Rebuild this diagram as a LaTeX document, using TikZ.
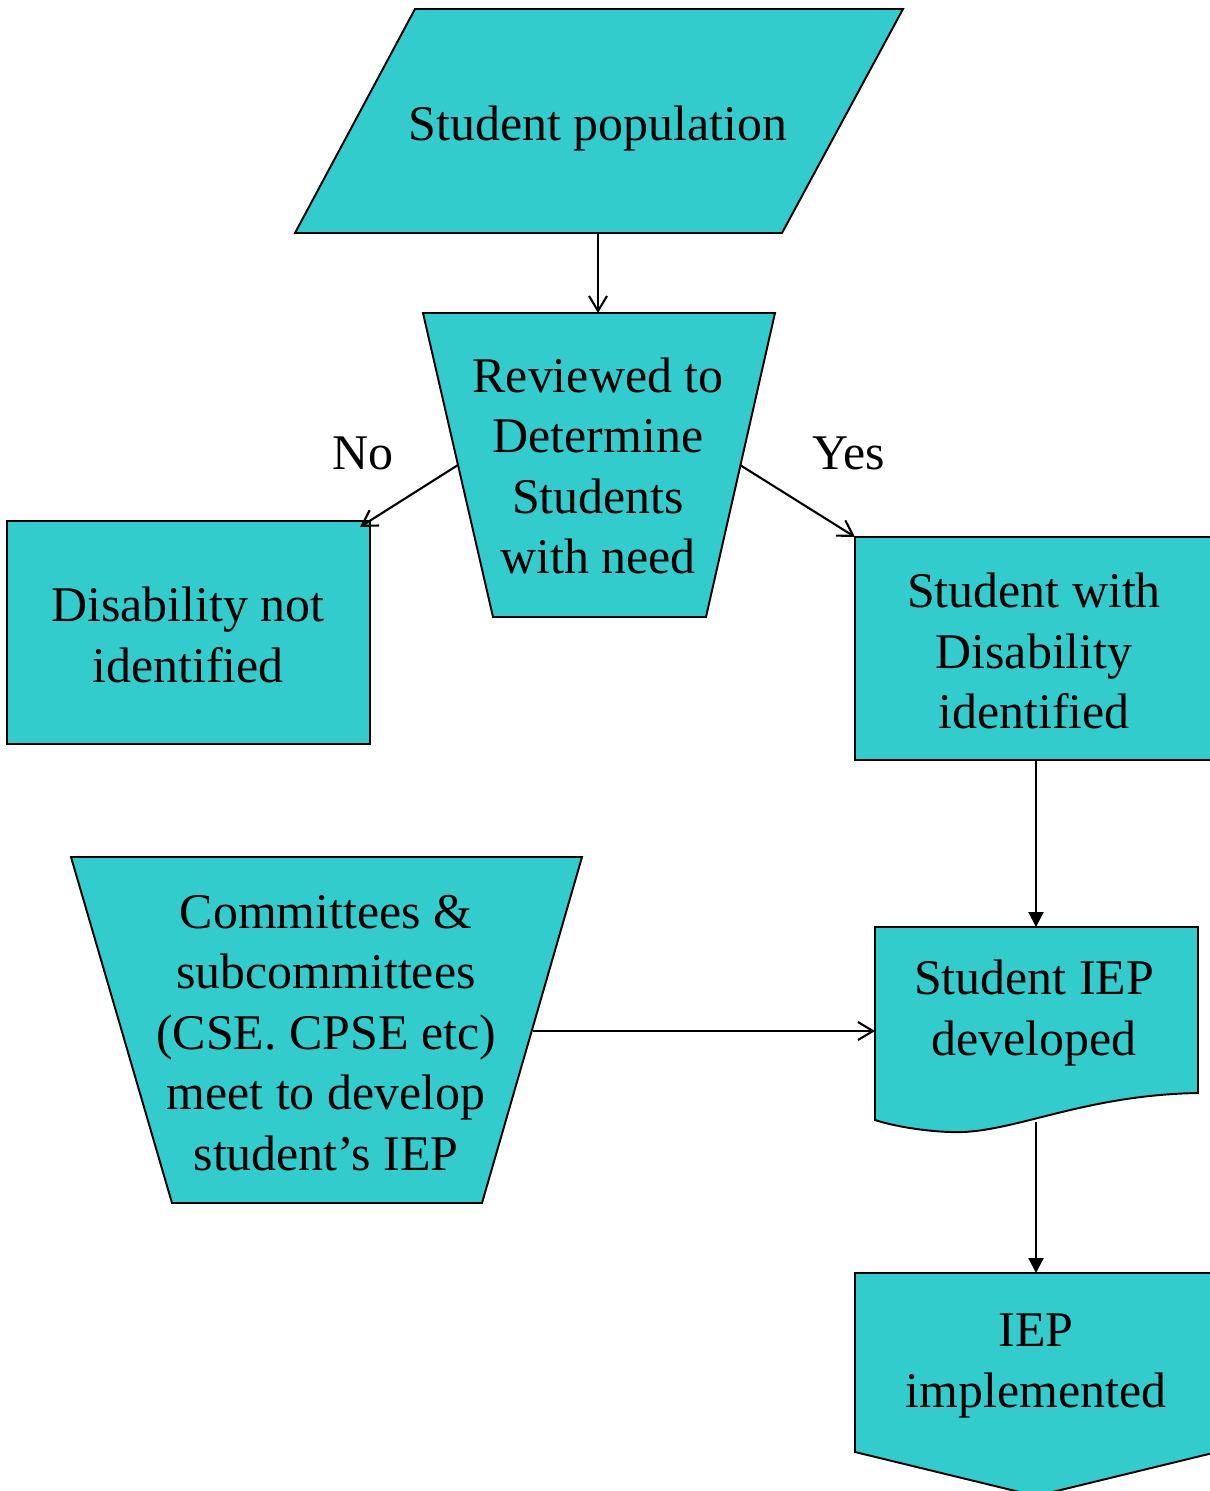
\documentclass[tikz,border=0pt]{standalone}
\usepackage{fontspec}
\setmainfont{Liberation Serif}
\usetikzlibrary{arrows.meta}
\definecolor{flowfill}{RGB}{51,204,204}
\tikzset{
  box/.style={draw, fill=flowfill, line width=1.1pt, line join=miter},
  txt/.style={align=center, inner sep=0pt, font=\fontsize{28.4}{34.4}\selectfont},
  openarr/.style={line width=1.2pt, -{Straight Barb[length=0.3cm,width=0.36cm]}},
  fullarr/.style={line width=1.2pt, -{Triangle[length=0.3cm,width=0.3cm]}}
}

\begin{document}
\begin{tikzpicture}[x=0.02cm, y=-0.02cm]
\useasboundingbox (0,0) rectangle (1210,1491);
\clip (0,0) rectangle (1210,1491);

% shapes
\draw[box] (415,9) -- (903,9) -- (782,233) -- (295,233) -- cycle;
\draw[box] (423,313) -- (775,313) -- (706,617) -- (493,617) -- cycle;
\draw[box] (7,521) rectangle (370,744);
\draw[box] (855,537) rectangle (1217,760);
\draw[box] (71,857) -- (582,857) -- (482,1203) -- (172,1203) -- cycle;
\draw[box] (875,927) -- (1198,927) -- (1198,1093)
  .. controls (1080,1095) and (1010,1135) .. (950,1132)
  .. controls (920,1131) and (890,1125) .. (875,1120) -- cycle;
\draw[box] (855,1273) -- (1217,1273) -- (1217,1452) -- (1036,1496) -- (855,1452) -- cycle;

% texts
\node[txt] (pop) at (598,128) {Student population};
\node[txt] (review) at (598,466) {Reviewed to\\Determine\\Students\\with need};
\node[txt] (notid) at (188,635) {Disability not\\identified};
\node[txt] (isid) at (1034,651) {Student with\\Disability\\identified};
\node[txt] (cse) at (326,1033) {Committees \&\\subcommittees\\(CSE. CPSE etc)\\meet to develop\\student’s IEP};
\node[txt] (iepdev) at (1034,1013) {Student IEP\\developed};
\node[txt] (iepimp) at (1036,1366) {IEP\\implemented};
\node[txt] (no) at (363,453) {No};
\node[txt] (yes) at (849,453) {Yes};

% connector ends
\coordinate (pop-s) at (598,233);
\coordinate (review-n) at (598,313);
\coordinate (review-w) at (458,465);
\coordinate (review-e) at (740,465);
\coordinate (notid-ne) at (360,527);
\coordinate (isid-nw) at (855,537);
\coordinate (isid-s) at (1036,760);
\coordinate (iepdev-n) at (1036,927);
\coordinate (iepdev-w) at (875,1031);
\coordinate (iepdev-s) at (1036,1122);
\coordinate (iepimp-n) at (1036,1273);
\coordinate (cse-e) at (533,1031);

% connectors
\draw[openarr] (pop-s) -- (review-n);
\draw[openarr] (review-w) -- (notid-ne);
\draw[openarr] (review-e) -- (isid-nw);
\draw[openarr] (cse-e) -- (iepdev-w);
\draw[fullarr] (isid-s) -- (iepdev-n);
\draw[fullarr] (iepdev-s) -- (iepimp-n);
\end{tikzpicture}
\end{document}
